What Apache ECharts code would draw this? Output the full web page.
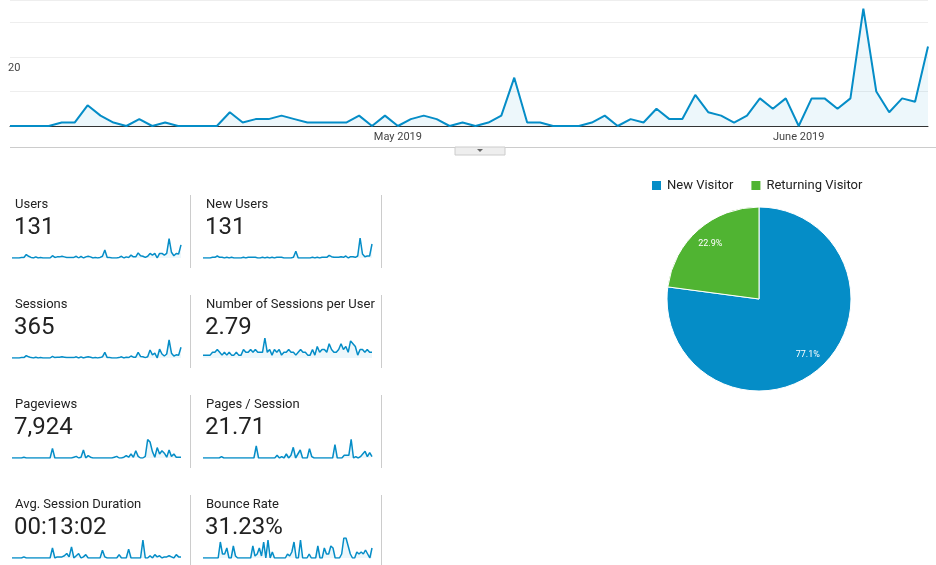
<!DOCTYPE html>
<html><head><meta charset="utf-8">
<script src="https://cdn.jsdelivr.net/npm/echarts@6/dist/echarts.min.js"></script>
<style>html,body{margin:0;padding:0;background:#fff}#c{width:936px;height:565px}</style>
</head><body><div id="c"></div>
<script>
var usersDaily=[0,0,0,0,1,1,6,3,1,0,2,0,1,0,0,0,0,4,1,2,2,3,2,1,1,1,1,3,0,3,0,2,3,2,0,1,0,1,3,14,1,1,0,0,0,1,3,0,2,1,5,2,2,9,4,3,1,3,8,5,8,0,8,8,5,8,34,10,4,8,7,23];
var dateLabels=[];
(function(){var m=['Apr','May','Jun'];var d=new Date(2019,3,1);for(var i=0;i<usersDaily.length;i++){dateLabels.push(d.getFullYear()+'-'+(d.getMonth()+1)+'-'+d.getDate());d.setDate(d.getDate()+1);}})();
var axisTickLabels={30:'May 2019',61:'June 2019'};
var yTickShown=[20];
var metricNames=['Users','New Users','Sessions','Number of Sessions per User','Pageviews','Pages / Session','Avg. Session Duration','Bounce Rate'];
var metricValues=['131','131','365','2.79','7,924','21.71','00:13:02','31.23%'];
var sparkUsers=usersDaily;
var sparkNewUsers=[0,0,0,0,1,1,3,1,1,0,1,0,1,0,0,0,0,1,0,1,1,1,1,0,0,1,0,1,0,1,0,1,1,1,0,0,0,0,1,10,0,0,0,0,0,0,1,0,1,0,1,1,1,4,2,1,1,1,2,1,3,0,2,2,1,3,30,6,2,3,3,21];
var sparkSessions=[0,0,0,0,1,1,6,3,1,0,2,0,1,0,0,0,0,4,1,2,2,3,2,1,1,1,1,3,0,3,0,2,3,2,0,1,0,1,3,14,1,1,0,0,0,1,3,0,2,1,5,2,2,14,4,3,1,3,20,8,12,0,22,10,5,10,45,12,5,8,7,27];
var sparkSessPerUser=[1,1,1,1,2,2,3,2,1,2,1,2,1,1,2,1,1,3,2,2,3,2,3,2,2,2,7,2,3,1,3,2,3,1,2,2,3,2,2,1,2,3,2,2,1,1,3,1,4,2,3,3,2,5,3,2,2,3,5,3,4,2,6,5,4,1,3,3,2,3,2,2];
var sparkPageviews=[0,0,0,0,0,1,0,0,0,0,0,0,0,0,0,0,0,12,0,0,0,0,0,0,0,0,1,2,0,1,10,0,3,1,0,0,0,0,0,0,0,0,0,1,2,0,0,1,3,1,5,1,9,2,0,0,2,23,20,8,1,13,5,9,6,1,10,2,5,1,1,1];
var sparkPagesPerSess=[0,0,0,0,0,0,0,0,1,0,0,0,0,0,0,0,0,0,0,0,0,0,0,9,0,0,0,0,0,0,0,0,2,0,1,0,3,0,2,8,0,3,6,0,0,0,7,1,0,0,0,0,0,0,0,0,0,10,0,0,0,2,2,2,14,0,1,0,1,3,5,1,4,1];
var sparkDuration=[0,0,0,0,0,1,0,0,0,0,0,0,0,0,0,0,0,9,0,1,1,1,2,4,1,10,0,2,4,0,1,3,0,0,0,0,0,0,7,1,0,0,0,0,0,3,0,0,0,8,0,0,0,0,0,16,0,0,2,0,3,1,2,0,1,1,2,1,0,3,1,1];
var sparkBounce=[0,0,0,0,0,0,0,0,8,2,2,5,0,0,6,1,0,0,0,0,0,0,0,6,1,2,5,1,8,0,9,0,3,0,0,0,0,0,0,2,1,3,8,0,0,9,0,0,0,2,0,0,0,6,0,0,5,2,2,6,5,0,0,0,2,10,10,6,2,0,0,3,2,3,2,4,2,0,5];
var sparkSets=[sparkUsers,sparkNewUsers,sparkSessions,sparkSessPerUser,sparkPageviews,sparkPagesPerSess,sparkDuration,sparkBounce];
var pieNames=['New Visitor','Returning Visitor'];
var pieValues=[77.1,22.9];

var blue='#058dc7', green='#50b432', font='Roboto';
var chart=echarts.init(document.getElementById('c'));
var grids=[{left:10,right:8,top:0,height:126}];
var xAxes=[{type:'category',gridIndex:0,data:dateLabels,boundaryGap:false,
  axisLine:{lineStyle:{color:'#333',width:1}},axisTick:{show:false},
  axisLabel:{interval:0,fontFamily:font,fontSize:11,color:'#444',margin:6,formatter:function(v,i){return axisTickLabels[i]||'';}}}];
var yAxes=[{type:'value',gridIndex:0,min:0,max:36.5,interval:10,
  splitLine:{lineStyle:{color:'#eee'}},axisLine:{show:false},axisTick:{show:false},
  axisLabel:{inside:true,verticalAlign:'top',fontFamily:font,fontSize:11,color:'#444',margin:-2,padding:[6,0,0,0],formatter:function(v){return yTickShown.indexOf(v)>=0?String(v):'';}}}];
var series=[{type:'line',xAxisIndex:0,yAxisIndex:0,data:usersDaily,symbol:'none',lineStyle:{color:blue,width:2},areaStyle:{color:'rgba(5,141,199,0.1)'},z:3}];
var titles=[];
var graphics=[
 {type:'line',shape:{x1:10,y1:147.5,x2:936,y2:147.5},style:{stroke:'#ccc',lineWidth:1}},
 {type:'rect',shape:{x:455,y:147,width:50,height:8},style:{fill:'#eee',stroke:'#ccc',lineWidth:1}},
 {type:'polygon',shape:{points:[[477,149],[483,149],[480,152]]},style:{fill:'#666'}}
];
for(var k=0;k<8;k++){
  var col=k%2,row=Math.floor(k/2);
  var x=col?201:10, y=193+row*100;
  titles.push({text:metricNames[k],left:x,top:y,textStyle:{fontFamily:font,fontSize:13,fontWeight:'normal',color:'#222'}});
  titles.push({text:metricValues[k],left:x-1,top:y+18,textStyle:{fontFamily:font,fontSize:24,fontWeight:'normal',color:'#222'}});
  grids.push({left:x+2,width:169,top:y+45,height:20});
  xAxes.push({type:'category',gridIndex:k+1,data:sparkSets[k].map(function(_,i){return i;}),boundaryGap:false,show:false});
  yAxes.push({type:'value',gridIndex:k+1,min:0,show:false,splitLine:{show:false}});
  series.push({type:'line',xAxisIndex:k+1,yAxisIndex:k+1,data:sparkSets[k],symbol:'none',lineStyle:{color:blue,width:1.5},areaStyle:{color:'rgba(5,141,199,0.1)'}});
  if(col===1||true){
    var lx=col?381.5:190.5;
    graphics.push({type:'line',shape:{x1:lx,y1:y+2,x2:lx,y2:y+75},style:{stroke:'#ccc',lineWidth:1}});
  }
}
var pieData=pieNames.map(function(n,i){return {name:n,value:pieValues[i],itemStyle:{color:i?green:blue}};});
series.push({type:'pie',center:[759,299],radius:92,startAngle:90,data:pieData,label:{show:false},labelLine:{show:false},itemStyle:{borderColor:'#fff',borderWidth:1},silent:true});
series.push({type:'pie',center:[759,299],radius:142,startAngle:90,data:pieNames.map(function(n,i){return {name:n,value:pieValues[i]};}),
  itemStyle:{color:'rgba(0,0,0,0)'},label:{show:true,position:'inside',color:'#fff',fontFamily:font,fontSize:9,formatter:function(p){return p.value.toFixed(1)+'%';}},labelLine:{show:false},silent:true,z:5,legendHoverLink:false});
chart.setOption({
  animation:false,
  title:titles,
  grid:grids,xAxis:xAxes,yAxis:yAxes,series:series,
  legend:{data:pieNames,left:645,top:174,itemWidth:11,itemHeight:11,itemGap:16,icon:'rect',
    textStyle:{fontFamily:font,fontSize:13,color:'#222'}},
  graphic:graphics
});
</script></body></html>
